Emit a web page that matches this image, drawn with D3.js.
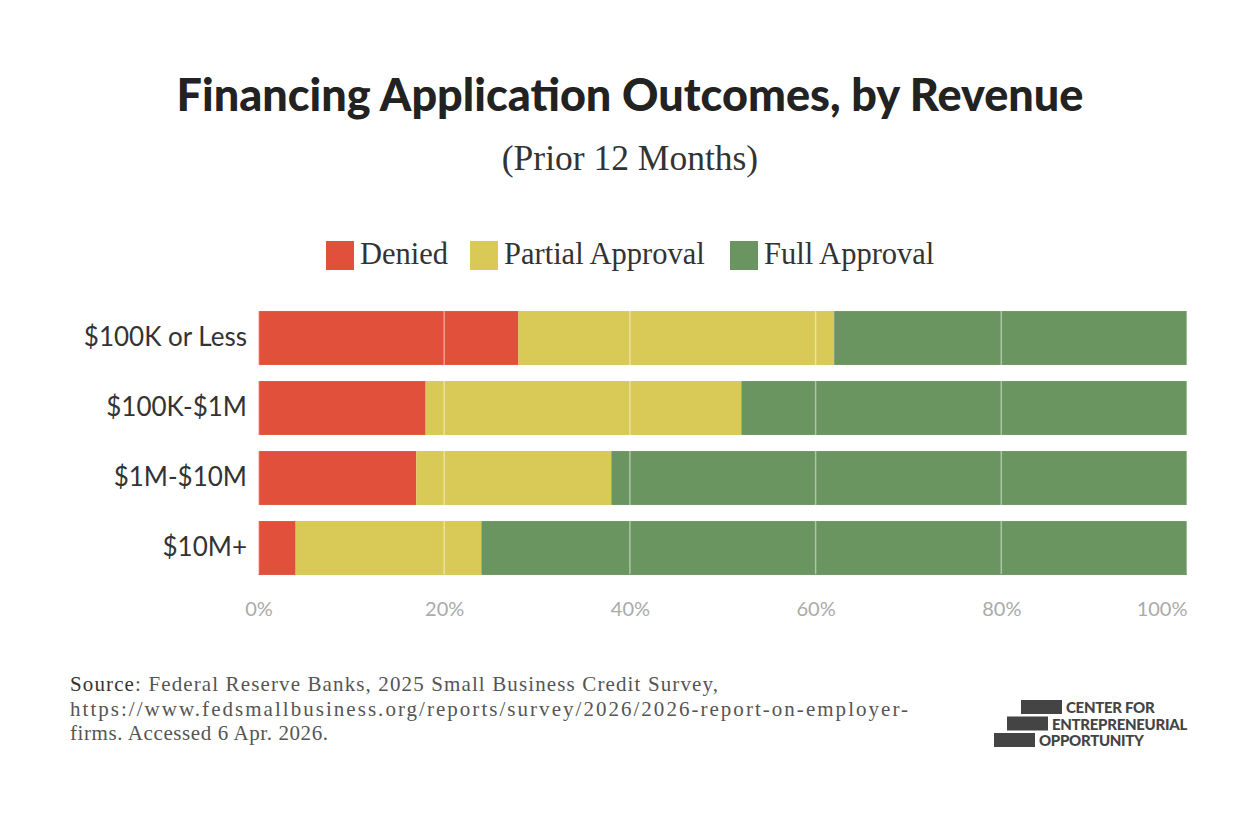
<!DOCTYPE html>
<html>
<head>
<meta charset="utf-8">
<script src="https://cdn.jsdelivr.net/npm/d3@7"></script>
<style>
  body { margin: 0; background: #fff; }
  svg { display: block; }
</style>
</head>
<body>
<svg id="chart" width="1260" height="818"></svg>
<script>
// values (percent of applications)
var categories = ["$100K or Less", "$100K-$1M", "$1M-$10M", "$10M+"];
var seriesNames = ["Denied", "Partial Approval", "Full Approval"];
var denied = [28, 18, 17, 4];
var partial = [34, 34, 21, 20];
var full = [38, 48, 62, 76];
var tickValues = [0, 20, 40, 60, 80, 100];
var colors = ["#e1503b", "#d9c957", "#6a9560"];

var rows = categories.map(function (c, i) {
  return { cat: c, "Denied": denied[i], "Partial Approval": partial[i], "Full Approval": full[i] };
});

var svg = d3.select("#chart");
var sansFont = "Lato, 'Open Sans', sans-serif";
var serifFont = "'Liberation Serif', 'DejaVu Serif', serif";

var x = d3.scaleLinear().domain([0, 100]).range([258.5, 1187]);
var y = d3.scaleBand().domain(categories).range([303, 583]).paddingInner(0.23).paddingOuter(0.115);
var color = d3.scaleOrdinal().domain(seriesNames).range(colors);

// title + subtitle
svg.append("text")
  .attr("x", 630).attr("y", 111)
  .attr("text-anchor", "middle")
  .style("font-family", sansFont)
  .style("font-weight", 900)
  .style("font-size", "45px")
  .style("fill", "#222")
  .text("Financing Application Outcomes, by Revenue");

svg.append("text")
  .attr("x", 630).attr("y", 170)
  .attr("text-anchor", "middle")
  .style("font-family", serifFont)
  .style("font-size", "35.5px")
  .style("fill", "#333")
  .text("(Prior 12 Months)");

// legend
var legendX = [326, 470, 730];
var legend = svg.append("g").selectAll("g")
  .data(seriesNames)
  .enter().append("g")
  .attr("transform", function (d, i) { return "translate(" + legendX[i] + ",241)"; });

legend.append("rect")
  .attr("width", 28).attr("height", 29)
  .style("fill", function (d) { return color(d); });

legend.append("text")
  .attr("x", 34).attr("y", 23)
  .style("font-family", serifFont)
  .style("font-size", "30.5px")
  .style("fill", "#333")
  .text(function (d) { return d; });

// bars
var stacked = d3.stack().keys(seriesNames)(rows);

svg.append("g").selectAll("g")
  .data(stacked)
  .enter().append("g")
  .style("fill", function (d) { return color(d.key); })
  .selectAll("rect")
  .data(function (d) { return d; })
  .enter().append("rect")
  .attr("x", function (d) { return x(d[0]); })
  .attr("y", function (d) { return y(d.data.cat); })
  .attr("width", function (d) { return x(d[1]) - x(d[0]); })
  .attr("height", y.bandwidth());

// gridlines over the bars
svg.append("g").selectAll("line")
  .data(tickValues)
  .enter().append("line")
  .attr("x1", function (d) { return x(d); })
  .attr("x2", function (d) { return x(d); })
  .attr("y1", y.range()[0] + 7)
  .attr("y2", y.range()[1] - 9)
  .style("stroke", "#fff")
  .style("stroke-opacity", 0.45)
  .style("stroke-width", 1.5);

// x axis
var xAxis = svg.append("g")
  .attr("transform", "translate(0,588)")
  .call(d3.axisBottom(x).tickValues(tickValues).tickSize(0).tickPadding(14)
    .tickFormat(function (d) { return d + "%"; }));
xAxis.select(".domain").remove();
xAxis.selectAll("text")
  .style("font-family", sansFont)
  .style("font-size", "20px")
  .style("fill", "#aaa");
xAxis.selectAll(".tick text")
  .filter(function (d) { return d === 100; })
  .attr("text-anchor", "end");

// y axis
var yAxis = svg.append("g")
  .attr("transform", "translate(247,0)")
  .call(d3.axisLeft(y).tickSize(0).tickPadding(0));
yAxis.select(".domain").remove();
yAxis.selectAll("text")
  .style("font-family", sansFont)
  .style("font-size", "26px")
  .style("fill", "#333");

// source note
var sourceLines = [
  "Federal Reserve Banks, 2025 Small Business Credit Survey,",
  "https://www.fedsmallbusiness.org/reports/survey/2026/2026-report-on-employer-",
  "firms. Accessed 6 Apr. 2026."
];
var sourceWidths = [648, 838, 258];
var src = svg.append("text")
  .style("font-family", serifFont)
  .style("font-size", "21px")
  .style("fill", "#555");
sourceLines.forEach(function (line, i) {
  var t = src.append("tspan").attr("x", 70).attr("y", 691 + i * 24.5)
    .attr("textLength", sourceWidths[i]).attr("lengthAdjust", "spacing");
  if (i === 0) {
    t.append("tspan").style("fill", "#333").text("Source");
    t.append("tspan").text(": " + line);
  } else {
    t.text(line);
  }
});

// logo
var logo = svg.append("g").style("fill", "#444");
var blocks = [[1021, 700], [1007, 716.5], [994, 733]];
var words = ["CENTER FOR", "ENTREPRENEURIAL", "OPPORTUNITY"];
logo.selectAll("rect").data(blocks).enter().append("rect")
  .attr("x", function (d) { return d[0]; })
  .attr("y", function (d) { return d[1]; })
  .attr("width", 41).attr("height", 14);
logo.selectAll("text").data(words).enter().append("text")
  .attr("x", function (d, i) { return blocks[i][0] + 45; })
  .attr("y", function (d, i) { return blocks[i][1] + 13; })
  .style("font-family", sansFont)
  .style("font-weight", 900)
  .style("font-size", "15px")
  .style("letter-spacing", "-0.3px")
  .text(function (d) { return d; });
</script>
</body>
</html>
